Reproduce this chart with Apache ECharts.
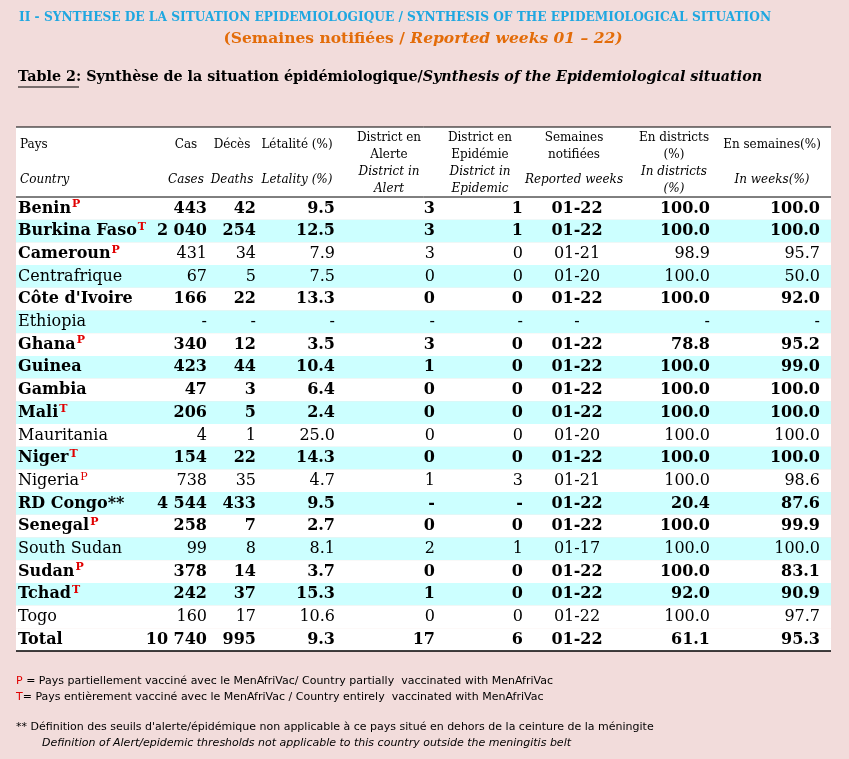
<!DOCTYPE html>
<html><head><meta charset="utf-8">
<script src="https://cdn.jsdelivr.net/npm/echarts@6/dist/echarts.min.js"></script>
<style>html,body{margin:0;padding:0;background:#f2dcdb}#main{width:849px;height:759px}</style>
</head><body><div id="main"></div>
<script>
// données du tableau
var countries = ["Benin","Burkina Faso","Cameroun","Centrafrique","Côte d'Ivoire","Ethiopia","Ghana","Guinea","Gambia","Mali","Mauritania","Niger","Nigeria","RD Congo**","Senegal","South Sudan","Sudan","Tchad","Togo","Total"];
var sup       = ["P","T","P","","","","P","","","T","","T","P","","P","","P","T","",""];
var cas       = ["443","2 040","431","67","166","-","340","423","47","206","4","154","738","4 544","258","99","378","242","160","10 740"];
var deces     = ["42","254","34","5","22","-","12","44","3","5","1","22","35","433","7","8","14","37","17","995"];
var letalite  = ["9.5","12.5","7.9","7.5","13.3","-","3.5","10.4","6.4","2.4","25.0","14.3","4.7","9.5","2.7","8.1","3.7","15.3","10.6","9.3"];
var alerte    = ["3","3","3","0","0","-","3","1","0","0","0","0","1","-","0","2","0","1","0","17"];
var epidemie  = ["1","1","0","0","0","-","0","0","0","0","0","0","3","-","0","1","0","0","0","6"];
var semaines  = ["01-22","01-22","01-21","01-20","01-22","-","01-22","01-22","01-22","01-22","01-20","01-22","01-21","01-22","01-22","01-17","01-22","01-22","01-22","01-22"];
var enDistricts = ["100.0","100.0","98.9","100.0","100.0","-","78.8","100.0","100.0","100.0","100.0","100.0","100.0","20.4","100.0","100.0","100.0","92.0","100.0","61.1"];
var enSemaines  = ["100.0","100.0","95.7","50.0","92.0","-","95.2","99.0","100.0","100.0","100.0","100.0","98.6","87.6","99.9","100.0","83.1","90.9","97.7","95.3"];
var boldName = [1,1,1,0,1,0,1,1,1,1,0,1,0,1,1,0,1,1,0,1];
var boldRow  = [1,1,0,0,1,0,1,1,1,1,0,1,0,1,1,0,1,1,0,1];

var headFr = ["Pays","Cas","Décès","Létalité (%)","District en\nAlerte","District en\nEpidémie","Semaines\nnotifiées","En districts\n(%)","En semaines(%)"];
var headEn = ["Country","Cases","Deaths","Letality (%)","District in\nAlert","District in\nEpidemic","Reported weeks","In districts\n(%)","In weeks(%)"];

var FONT = "'DejaVu Serif', serif";
var SANS = "'DejaVu Sans', sans-serif";
var headX = [20,186,232,297,389,480,574,674,772];
var headAlign = ["left","center","center","center","center","center","center","center","center"];
var colX = [207,256,335,435,523,577,710,820];
var colAlign = ["right","right","right","right","right","center","right","right"];
var top0 = 197, rowH = 22.7;

var g = [];
g.push({type:"rect",shape:{x:0,y:0,width:849,height:759},style:{fill:"#f2dcdb"}});
g.push({type:"text",x:395,y:18,style:{text:"II - SYNTHESE DE LA SITUATION EPIDEMIOLOGIQUE / SYNTHESIS OF THE EPIDEMIOLOGICAL SITUATION",font:"bold 12.2px "+FONT,fill:"#1fa7e0",align:"center",verticalAlign:"middle"}});
g.push({type:"text",x:423,y:39,style:{text:"{a|(Semaines notifiées / }{b|Reported weeks 01 – 22)}",align:"center",verticalAlign:"middle",rich:{a:{font:"bold 15.5px "+FONT,fill:"#e36c09"},b:{font:"italic bold 15.5px "+FONT,fill:"#e36c09"}}}});
g.push({type:"text",x:18,y:77,style:{text:"{a|Table 2}{b|: Synthèse de la situation épidémiologique/}{c|Synthesis of the Epidemiological situation}",verticalAlign:"middle",rich:{a:{font:"bold 14.3px "+FONT,fill:"#000"},b:{font:"bold 14.3px "+FONT,fill:"#000"},c:{font:"italic bold 14.3px "+FONT,fill:"#000"}}}});
g.push({type:"line",shape:{x1:18,y1:87,x2:79,y2:87},style:{stroke:"#000",lineWidth:1}});

// lignes de fond
countries.forEach(function(c,i){
  var last = i === countries.length-1;
  g.push({type:"rect",shape:{x:16,y:top0+i*rowH,width:815,height:rowH},style:{fill:(i%2 && !last)?"#ccffff":"#ffffff"}});
});
g.push({type:"rect",shape:{x:16,y:127,width:815,height:70},style:{fill:"#ffffff"}});
g.push({type:"line",shape:{x1:16,y1:127,x2:831,y2:127},style:{stroke:"#000",lineWidth:1}});
g.push({type:"line",shape:{x1:16,y1:197,x2:831,y2:197},style:{stroke:"#000",lineWidth:1}});
g.push({type:"line",shape:{x1:16,y1:top0+countries.length*rowH,x2:831,y2:top0+countries.length*rowH},style:{stroke:"#000",lineWidth:1.5}});

headFr.forEach(function(t,j){
  g.push({type:"text",x:headX[j],y:t.indexOf("\n")>0?146:145,style:{text:t,font:"12px "+FONT,fill:"#000",align:headAlign[j],verticalAlign:"middle",lineHeight:17}});
  g.push({type:"text",x:headX[j],y:180,style:{text:headEn[j],font:"italic 12px "+FONT,fill:"#000",align:headAlign[j],verticalAlign:"middle",lineHeight:17}});
});

countries.forEach(function(c,i){
  var y = top0+i*rowH+rowH/2;
  var nf = (boldName[i]?"bold ":"")+"16px "+FONT;
  g.push({type:"text",x:18,y:y,style:{text:"{n|"+c+"}"+(sup[i]?"{s|"+sup[i]+"}":""),verticalAlign:"middle",
    rich:{n:{font:nf,fill:"#000"},s:{font:(boldName[i]?"bold ":"")+"11px "+FONT,fill:"#e00000",verticalAlign:"top",padding:[0,0,8,1]}}}});
  var vals = [cas[i],deces[i],letalite[i],alerte[i],epidemie[i],semaines[i],enDistricts[i],enSemaines[i]];
  var vf = (boldRow[i]?"bold ":"")+"16px "+FONT;
  vals.forEach(function(v,j){
    g.push({type:"text",x:colX[j],y:y,style:{text:v,font:vf,fill:"#000",align:colAlign[j],verticalAlign:"middle"}});
  });
});

g.push({type:"text",x:16,y:681,style:{text:"{r|P} = Pays partiellement vacciné avec le MenAfriVac/ Country partially  vaccinated with MenAfriVac",verticalAlign:"middle",font:"11px "+SANS,fill:"#000",rich:{r:{font:"11px "+SANS,fill:"#e00000"}}}});
g.push({type:"text",x:16,y:697,style:{text:"{r|T}= Pays entièrement vacciné avec le MenAfriVac / Country entirely  vaccinated with MenAfriVac",verticalAlign:"middle",font:"11px "+SANS,fill:"#000",rich:{r:{font:"11px "+SANS,fill:"#e00000"}}}});
g.push({type:"text",x:16,y:727,style:{text:"** Définition des seuils d'alerte/épidémique non applicable à ce pays situé en dehors de la ceinture de la méningite",verticalAlign:"middle",font:"11px "+SANS,fill:"#000"}});
g.push({type:"text",x:42,y:743,style:{text:"Definition of Alert/epidemic thresholds not applicable to this country outside the meningitis belt",verticalAlign:"middle",font:"italic 11px "+SANS,fill:"#000"}});

var chart = echarts.init(document.getElementById("main"));
chart.setOption({backgroundColor:"#f2dcdb",graphic:{elements:g}});
</script></body></html>
